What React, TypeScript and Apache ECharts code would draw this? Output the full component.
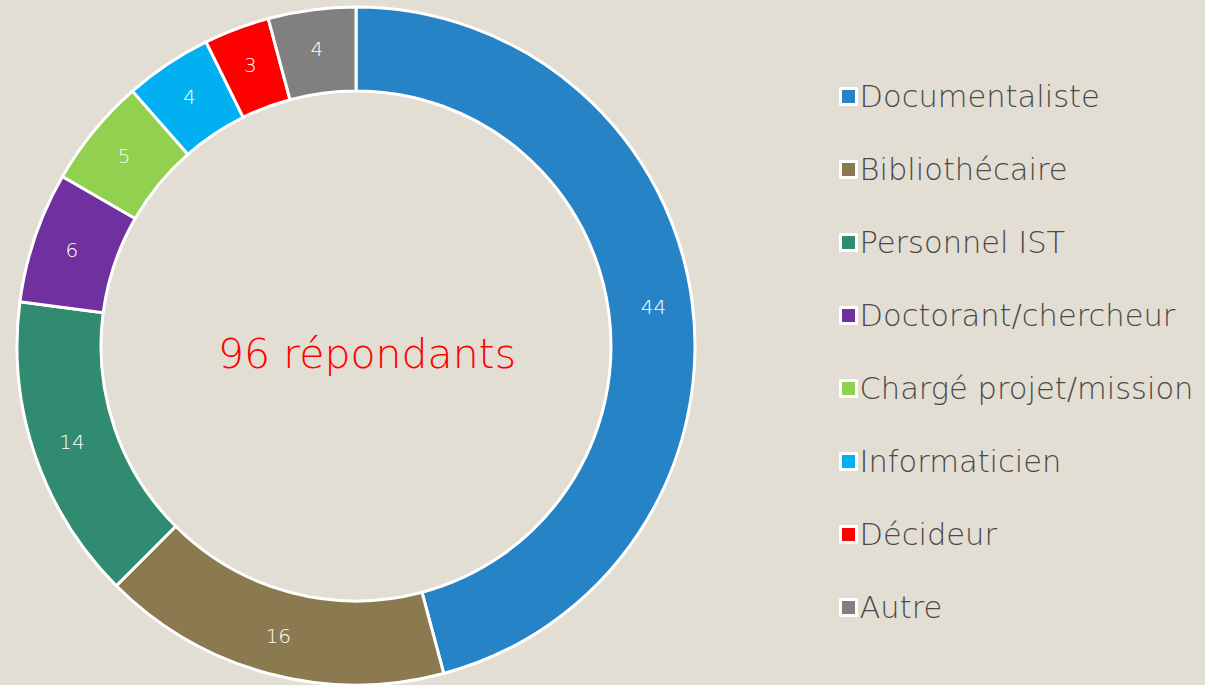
import React, { useEffect, useRef } from "react";
import * as echarts from "echarts";

const categories = [
  "Documentaliste",
  "Bibliothécaire",
  "Personnel IST",
  "Doctorant/chercheur",
  "Chargé projet/mission",
  "Informaticien",
  "Décideur",
  "Autre",
];
const values = [44, 16, 14, 6, 5, 4, 3, 4];
const colors = ["#2683C6", "#8B7A4F", "#318B70", "#7030A0", "#92D050", "#00B0F0", "#FF0000", "#808080"];
const centerText = "96 répondants";

const FONT = "'DejaVu Sans', sans-serif";

export default function App() {
  const ref = useRef<HTMLDivElement>(null);
  useEffect(() => {
    if (!ref.current) return;
    const chart = echarts.init(ref.current, null, { renderer: "svg" });
    chart.setOption({
      animation: false,
      backgroundColor: "#E3DED3",
      legend: {
        orient: "vertical",
        left: 834,
        top: 76,
        itemWidth: 16,
        itemHeight: 16,
        itemGap: 42,
        icon: "rect",
        textStyle: { fontSize: 30.5, lineHeight: 31, color: "#4A4A4A", fontFamily: FONT, fontWeight: 200, padding: [0, 0, 0, -2] },
        itemStyle: { borderColor: "#FFFFFF", borderWidth: 3 },
        data: categories,
      },
      graphic: [
        {
          type: "text",
          left: 218,
          top: 333,
          style: { text: centerText, fill: "#FF0000", fontSize: 41, fontWeight: 200, fontFamily: FONT },
        },
      ],
      series: [
        {
          type: "pie",
          center: [356, 346],
          radius: [255, 339],
          startAngle: 90,
          clockwise: true,
          itemStyle: { borderColor: "#FFFFFF", borderWidth: 3 },
          label: {
            position: "inside",
            color: "#FFFFFF",
            fontSize: 20,
            fontWeight: 200,
            fontFamily: FONT,
            formatter: "{c}",
          },
          labelLine: { show: false },
          data: categories.map((c, i) => ({ name: c, value: values[i], itemStyle: { color: colors[i] } })),
        },
      ],
    });
    return () => chart.dispose();
  }, []);
  return <div ref={ref} style={{ position: "fixed", left: 0, top: 0, width: 1205, height: 685 }} />;
}
